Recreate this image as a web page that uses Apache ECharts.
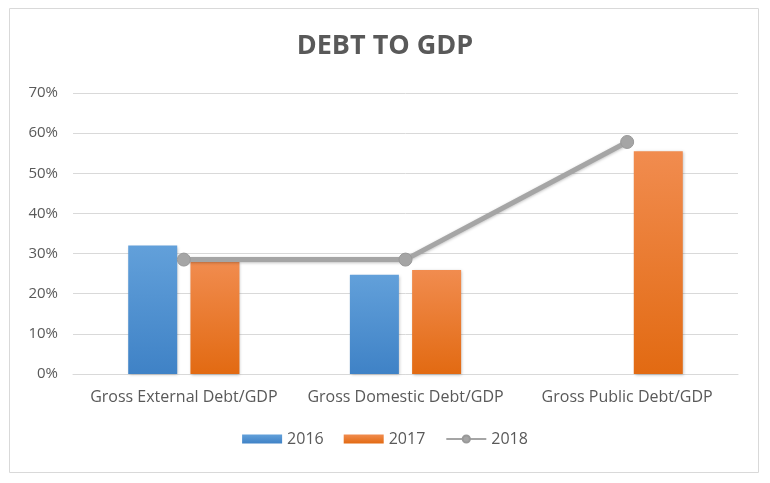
<!DOCTYPE html>
<html><head><meta charset="utf-8">
<script src="https://cdn.jsdelivr.net/npm/echarts@6/dist/echarts.min.js"></script>
<style>html,body{margin:0;padding:0;background:#fff}#c{width:770px;height:483px}</style>
</head><body><div id="c"></div>
<script>
const categories = ["Gross External Debt/GDP", "Gross Domestic Debt/GDP", "Gross Public Debt/GDP"];
const s2016 = [32, 24.7, null];
const s2017 = [28.1, 25.9, 55.5];
const s2018 = [28.5, 28.5, 57.8];
const yTicks = [0, 10, 20, 30, 40, 50, 60, 70];

const chart = echarts.init(document.getElementById('c'));
const font = '"Open Sans", "Noto Sans", sans-serif';
chart.setOption({
  animation: false,
  textStyle: { fontFamily: font },
  graphic: [{ type: 'rect', shape: { x: 9.5, y: 8.5, width: 749, height: 464 }, style: { fill: 'none', stroke: '#d9d9d9', lineWidth: 1 }, z: -1 }],
  title: { text: 'DEBT TO GDP', left: 'center', top: 28, textStyle: { fontFamily: font, fontSize: 27, fontWeight: 'bold', color: '#595959' } },
  grid: { left: 73, right: 32, top: 93, bottom: 109 },
  legend: {
    bottom: 31, left: 'center', itemGap: 20, itemWidth: 40, itemHeight: 9,
    textStyle: { fontFamily: font, fontSize: 16, color: '#595959' },
    data: [{ name: '2016', icon: 'rect' }, { name: '2017', icon: 'rect' }, { name: '2018' }]
  },
  xAxis: {
    type: 'category', data: categories,
    axisLine: { lineStyle: { color: '#d9d9d9', width: 1 } },
    axisTick: { show: false },
    axisLabel: { fontFamily: font, fontSize: 16, color: '#595959', margin: 15, interval: 0 }
  },
  yAxis: {
    type: 'value', min: 0, max: 70, interval: 10,
    axisLine: { show: false }, axisTick: { show: false },
    splitLine: { lineStyle: { color: '#d9d9d9', width: 1 } },
    axisLabel: { fontFamily: font, fontSize: 15, color: '#595959', margin: 15, formatter: v => yTicks.includes(v) ? v + '%' : '' }
  },
  series: [
    { name: '2016', type: 'bar', data: s2016, barWidth: 49, barGap: '27%',
      itemStyle: { color: new echarts.graphic.LinearGradient(0, 0, 0, 1, [{ offset: 0, color: '#62a0da' }, { offset: 1, color: '#3f82c6' }]),
        shadowColor: 'rgba(0,0,0,0.25)', shadowBlur: 3, shadowOffsetX: 1, shadowOffsetY: 1 } },
    { name: '2017', type: 'bar', data: s2017, barWidth: 49,
      itemStyle: { color: new echarts.graphic.LinearGradient(0, 0, 0, 1, [{ offset: 0, color: '#f18c4f' }, { offset: 1, color: '#e26a12' }]),
        shadowColor: 'rgba(0,0,0,0.25)', shadowBlur: 3, shadowOffsetX: 1, shadowOffsetY: 1 } },
    { name: '2018', type: 'line', data: s2018, symbol: 'circle', symbolSize: 13,
      lineStyle: { color: '#a5a5a5', width: 5, shadowColor: 'rgba(0,0,0,0.25)', shadowBlur: 3, shadowOffsetY: 1 },
      itemStyle: { color: '#a5a5a5', borderColor: '#999', borderWidth: 1 } }
  ]
});
</script></body></html>
